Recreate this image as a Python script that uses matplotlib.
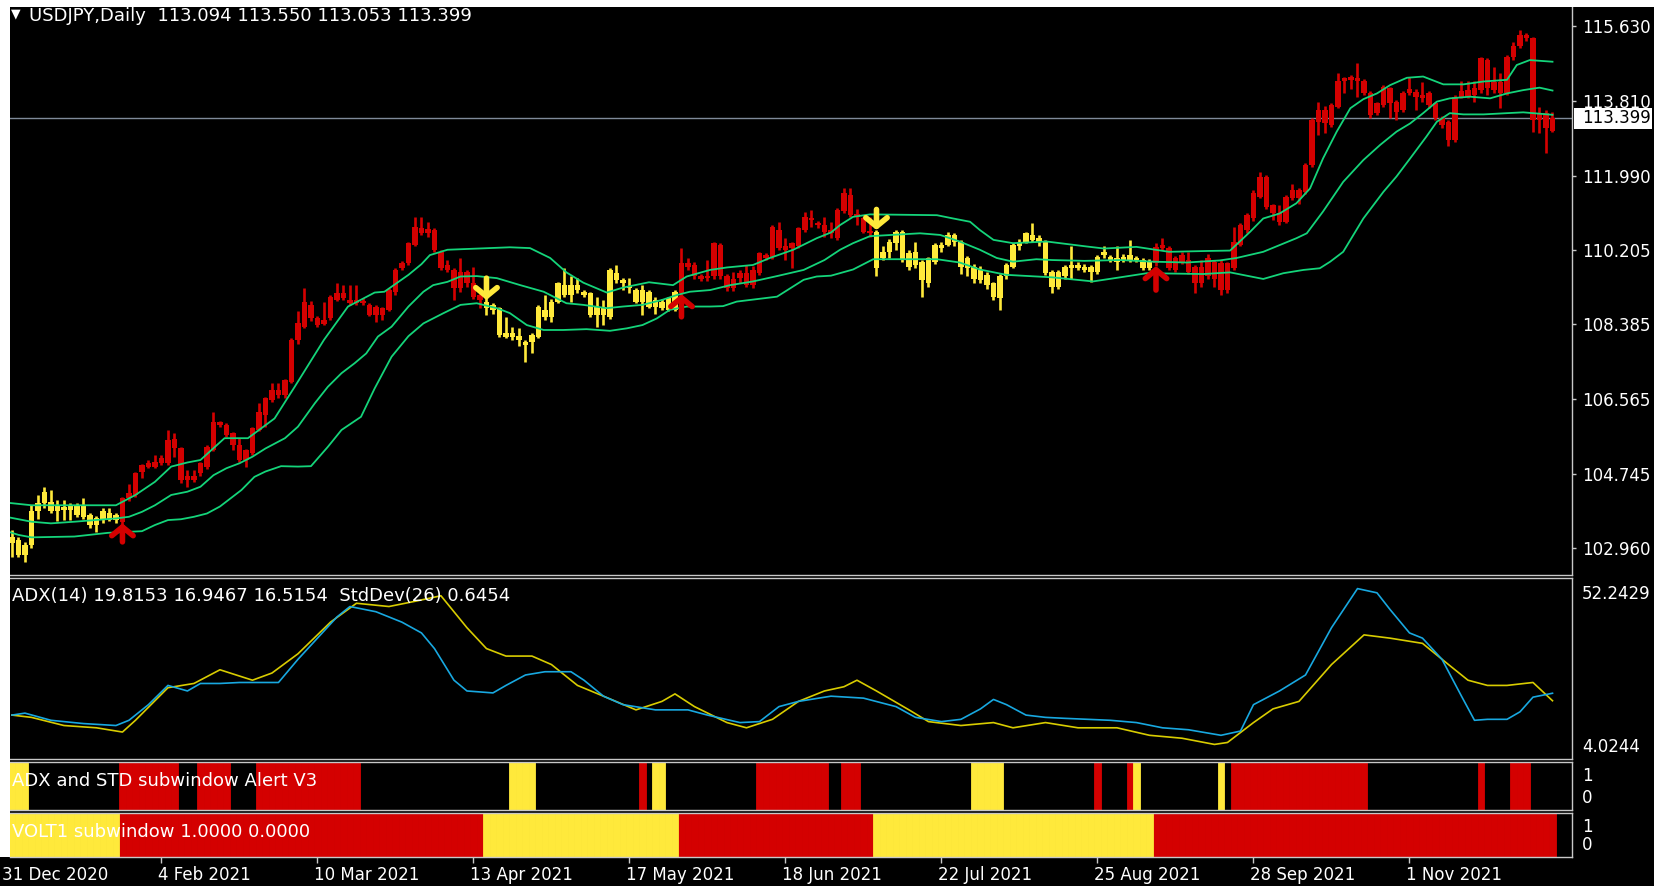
import matplotlib
matplotlib.use("Agg")
import matplotlib.pyplot as plt
import matplotlib.transforms as mtransforms
from matplotlib.patches import Rectangle

# ---------------- data ----------------
opens = [
    103.07, 103.15, 102.78, 103.02, 103.84, 104.04, 104.08, 103.84, 103.92, 103.88,
    103.96, 103.70, 103.75, 103.51, 103.62, 103.80, 103.63, 103.59, 104.16, 104.24,
    104.81, 104.93, 104.93, 105.01, 105.01, 105.59, 105.37, 104.60, 104.69, 104.77,
    104.93, 105.33, 106.02, 105.94, 105.74, 105.45, 105.09, 105.25, 105.82, 106.18,
    106.55, 106.79, 106.67, 106.99, 108.01, 108.33, 108.86, 108.53, 108.40, 108.53,
    108.98, 109.16, 108.98, 108.90, 108.94, 108.86, 108.82, 108.62, 108.74, 109.18,
    109.75, 109.87, 110.32, 110.72, 110.60, 110.68, 110.15, 109.83, 109.71, 109.26,
    109.67, 109.38, 109.10, 108.94, 108.86, 108.78, 108.17, 108.09, 108.11, 107.97,
    107.97, 108.09, 108.74, 108.57, 108.94, 109.34, 109.10, 109.34, 109.18, 109.14,
    108.61, 108.82, 108.57, 109.63, 109.47, 109.30, 109.22, 108.94, 109.18, 108.82,
    108.94, 108.74, 108.74, 109.14, 109.87, 109.83, 109.55, 109.55, 109.55, 110.32,
    109.55, 109.26, 109.51, 109.63, 109.34, 109.63, 110.07, 110.03, 110.68, 110.28,
    110.24, 110.28, 110.68, 110.96, 110.84, 110.80, 110.68, 110.48, 111.13, 111.53,
    111.04, 110.96, 110.64, 110.64, 109.99, 110.15, 110.36, 110.64, 110.11, 109.83,
    109.91, 109.38, 109.91, 110.32, 110.32, 110.56, 110.40, 109.99, 109.79, 109.71,
    109.59, 109.38, 109.02, 109.55, 109.79, 110.40, 110.40, 110.56, 110.48, 110.40,
    109.67, 109.30, 109.55, 109.83, 109.75, 109.79, 109.79, 109.67, 110.07, 110.03,
    109.99, 109.95, 110.07, 109.99, 109.95, 109.75, 109.87, 110.32, 110.24, 109.99,
    109.91, 109.95, 109.79, 109.38, 109.99, 109.50, 109.87, 109.22, 109.75, 110.32,
    110.68, 110.96, 111.49, 111.98, 111.29, 111.09, 110.88, 111.45, 111.65, 111.61,
    112.26, 113.31, 113.60, 113.23, 113.68, 114.29, 114.41, 114.37, 114.29, 114.00,
    113.76, 113.72, 114.12, 113.80, 113.60, 114.10, 114.04, 113.96, 114.00, 113.76,
    113.40, 113.31, 112.87, 114.06, 113.92, 114.12, 114.08, 114.81, 114.28, 114.00,
    114.00, 114.89, 115.14, 115.42, 115.34, 113.35, 113.52, 113.094]

highs = [
    103.39, 103.22, 103.10, 104.00, 104.24, 104.44, 104.36, 104.12, 104.12, 104.04,
    104.05, 104.16, 103.80, 103.72, 103.92, 103.92, 103.80, 104.20, 104.50, 104.80,
    105.00, 105.09, 105.21, 105.20, 105.82, 105.75, 105.40, 104.85, 104.85, 105.05,
    105.45, 106.26, 106.05, 105.98, 105.78, 105.62, 105.36, 105.90, 106.47, 106.62,
    106.95, 106.95, 107.06, 108.05, 108.70, 109.26, 108.95, 108.58, 108.94, 109.10,
    109.38, 109.34, 109.34, 109.34, 109.02, 108.90, 108.86, 108.82, 109.26, 109.75,
    109.92, 110.40, 111.00, 111.00, 110.88, 110.72, 110.20, 109.95, 109.75, 110.00,
    109.72, 109.79, 109.14, 109.06, 108.90, 108.82, 108.57, 108.33, 108.29, 108.00,
    108.18, 108.86, 109.10, 109.00, 109.42, 109.75, 109.55, 109.51, 109.22, 109.18,
    109.06, 108.98, 109.75, 109.83, 109.51, 109.51, 109.26, 109.34, 109.22, 109.04,
    109.00, 109.06, 109.22, 110.24, 110.00, 109.90, 109.60, 109.95, 110.40, 110.36,
    109.60, 109.67, 109.70, 109.83, 109.80, 110.15, 110.12, 110.80, 110.88, 110.48,
    110.40, 110.76, 111.12, 111.17, 110.90, 111.00, 110.88, 111.22, 111.69, 111.69,
    111.20, 111.00, 111.00, 110.68, 110.30, 110.45, 110.68, 110.68, 110.20, 110.40,
    109.95, 110.03, 110.36, 110.40, 110.64, 110.60, 110.44, 110.05, 109.85, 109.80,
    109.65, 109.42, 109.60, 109.87, 110.36, 110.45, 110.64, 110.84, 110.56, 110.44,
    109.72, 109.72, 109.84, 110.28, 109.90, 109.85, 109.84, 110.08, 110.28, 110.08,
    110.28, 110.10, 110.44, 110.05, 110.00, 109.98, 110.36, 110.48, 110.30, 110.05,
    110.15, 110.15, 109.83, 109.95, 110.10, 109.95, 109.95, 109.91, 110.76, 110.84,
    111.10, 111.65, 112.10, 112.02, 111.32, 111.29, 111.53, 111.81, 111.70, 112.30,
    113.40, 113.80, 113.70, 113.76, 114.49, 114.41, 114.45, 114.73, 114.35, 114.05,
    113.80, 114.20, 114.16, 113.85, 114.05, 114.40, 114.10, 114.28, 114.05, 113.80,
    113.45, 113.35, 113.96, 114.30, 114.30, 114.30, 114.89, 114.85, 114.65, 114.50,
    114.93, 115.25, 115.54, 115.46, 115.38, 113.68, 113.60, 113.550]

lows = [
    102.74, 102.74, 102.62, 102.95, 103.65, 103.92, 103.80, 103.60, 103.64, 103.64,
    103.70, 103.65, 103.43, 103.35, 103.55, 103.60, 103.55, 103.50, 104.10, 104.20,
    104.65, 104.90, 104.90, 104.98, 104.98, 105.17, 104.52, 104.44, 104.55, 104.70,
    104.88, 105.30, 105.90, 105.65, 105.33, 105.05, 104.93, 105.20, 105.80, 105.90,
    106.50, 106.60, 106.60, 106.95, 107.90, 108.30, 108.48, 108.33, 108.36, 108.50,
    108.95, 108.98, 108.86, 108.86, 108.85, 108.58, 108.45, 108.49, 108.70, 109.10,
    109.70, 109.82, 110.28, 110.55, 110.50, 110.15, 109.70, 109.67, 108.98, 109.18,
    109.30, 109.00, 108.78, 108.62, 108.65, 108.09, 108.05, 108.00, 107.85, 107.48,
    107.68, 108.05, 108.50, 108.45, 108.90, 109.05, 108.94, 109.15, 109.05, 108.56,
    108.33, 108.37, 108.52, 109.40, 109.22, 109.14, 108.90, 108.62, 108.78, 108.65,
    108.74, 108.70, 108.70, 109.10, 109.70, 109.50, 109.45, 109.45, 109.50, 109.50,
    109.20, 109.20, 109.40, 109.30, 109.28, 109.58, 109.95, 109.98, 110.20, 109.95,
    109.75, 110.24, 110.64, 110.76, 110.74, 110.52, 110.48, 110.44, 111.10, 111.00,
    110.80, 110.60, 110.50, 109.55, 109.95, 110.00, 110.20, 109.90, 109.70, 109.75,
    109.06, 109.30, 109.85, 110.15, 110.28, 110.30, 109.60, 109.55, 109.40, 109.40,
    109.25, 108.98, 108.74, 109.50, 109.75, 110.20, 110.36, 110.40, 110.30, 109.58,
    109.14, 109.25, 109.50, 109.50, 109.70, 109.65, 109.42, 109.62, 110.00, 109.90,
    109.70, 109.90, 109.90, 109.90, 109.70, 109.70, 109.80, 110.20, 109.70, 109.65,
    109.85, 109.60, 109.14, 109.30, 109.50, 109.30, 109.10, 109.15, 109.70, 110.28,
    110.60, 110.90, 111.45, 111.20, 110.92, 110.80, 110.84, 111.40, 111.30, 111.55,
    112.20, 113.00, 113.03, 113.18, 113.64, 114.00, 114.10, 113.92, 113.96, 113.40,
    113.48, 113.68, 113.40, 113.35, 113.55, 113.95, 113.60, 113.80, 113.65, 113.35,
    113.15, 112.71, 112.82, 113.88, 113.88, 113.80, 114.00, 113.95, 114.00, 113.64,
    113.95, 114.80, 115.10, 115.28, 113.07, 113.03, 112.54, 113.053]

closes = [
    103.23, 102.78, 103.02, 103.84, 104.04, 104.32, 103.84, 103.96, 103.88, 103.96,
    103.75, 104.00, 103.51, 103.67, 103.84, 103.63, 103.75, 104.16, 104.28, 104.77,
    104.97, 105.01, 105.05, 105.13, 105.58, 105.37, 104.60, 104.69, 104.61, 105.01,
    105.41, 106.02, 105.94, 105.70, 105.45, 105.09, 105.33, 105.86, 106.26, 106.59,
    106.79, 106.67, 107.03, 108.01, 108.41, 108.94, 108.53, 108.37, 108.50, 109.06,
    109.14, 109.02, 108.90, 108.98, 108.90, 108.62, 108.62, 108.78, 109.22, 109.71,
    109.87, 110.36, 110.76, 110.60, 110.70, 110.20, 109.75, 109.71, 109.26, 109.67,
    109.38, 109.06, 108.98, 108.78, 108.74, 108.13, 108.09, 108.17, 108.01, 107.89,
    108.13, 108.82, 108.57, 108.94, 109.38, 109.10, 109.34, 109.22, 109.10, 108.61,
    108.82, 108.61, 109.71, 109.47, 109.39, 109.26, 108.94, 109.22, 108.82, 108.98,
    108.78, 109.02, 109.18, 109.87, 109.79, 109.55, 109.50, 109.51, 110.36, 109.55,
    109.26, 109.50, 109.63, 109.34, 109.71, 110.11, 109.99, 110.76, 110.24, 110.20,
    110.36, 110.72, 111.00, 110.92, 110.80, 110.64, 110.60, 111.17, 111.57, 111.04,
    111.00, 110.64, 110.60, 109.75, 110.15, 110.40, 110.64, 109.95, 109.79, 110.15,
    109.46, 109.99, 110.32, 110.24, 110.56, 110.40, 109.79, 109.75, 109.50, 109.46,
    109.34, 109.06, 109.55, 109.83, 110.32, 110.28, 110.60, 110.44, 110.40, 109.63,
    109.30, 109.67, 109.79, 109.75, 109.83, 109.71, 109.67, 110.03, 110.15, 109.95,
    109.91, 110.03, 109.95, 109.95, 109.75, 109.91, 110.27, 110.24, 109.75, 109.71,
    110.07, 109.67, 109.38, 109.79, 109.55, 109.91, 109.22, 109.87, 110.40, 110.80,
    111.05, 111.57, 111.98, 111.25, 111.09, 110.88, 111.49, 111.65, 111.45, 112.26,
    113.35, 113.60, 113.27, 113.72, 114.29, 114.37, 114.33, 114.29, 114.00, 113.48,
    113.52, 114.16, 113.76, 113.56, 114.00, 114.00, 113.92, 113.88, 113.72, 113.40,
    113.23, 112.87, 113.92, 113.92, 114.08, 113.96, 114.85, 114.12, 114.08, 114.28,
    114.89, 115.14, 115.42, 115.34, 113.35, 113.52, 113.15, 113.399]

# regime runs (first bar, last bar) of the VOLT1 window, also used for candle colours
volt_yellow = [(0, 16), (73, 102), (133, 175)]
volt_red = [(17, 72), (103, 132), (176, 237)]

# alert window runs
alert_yellow = [(0, 2), (77, 80), (99, 100), (148, 152), (173, 173), (186, 186)]
alert_red = [(17, 25), (29, 33), (38, 53), (97, 97), (115, 125), (128, 130),
             (167, 167), (172, 172), (188, 208), (226, 226), (231, 233)]

# green bands, read at sample bars
band_up_x = [-0.6, 3, 16, 19, 22, 24.5, 27, 29, 32.7, 36.3, 40.4, 43.5, 48, 51.7, 55.8, 57.3,
             61, 63, 64.3, 67, 76.6, 79.7, 82.8, 85.3, 87.9, 91.5, 94, 98, 101.7, 103.8,
             107.4, 110, 114, 116.6, 120.2, 123.8, 126, 127.4, 129.4, 132, 142.3, 144.8,
             147.4, 148.9, 151, 154, 159.2, 165.3, 168, 173, 178, 183.8, 187.4, 190.5,
             192.5, 195, 197.6, 199.7, 201.7, 203.8, 205.9, 207.9, 210, 212, 214.6, 217.1,
             220.2, 223.3, 226.4, 230, 231.5, 233.5, 237]
band_up = [104.05, 103.99, 103.99, 104.24, 104.56, 104.93, 105.03, 105.09, 105.62, 105.62,
           106.10, 106.87, 108.01, 108.82, 109.16, 109.18, 109.59, 109.85, 110.07, 110.20,
           110.26, 110.24, 110.00, 109.65, 109.40, 109.16, 109.28, 109.41, 109.34, 109.55,
           109.71, 109.77, 109.83, 110.00, 110.20, 110.48, 110.62, 110.80, 111.00, 111.06,
           111.04, 110.96, 110.88, 110.68, 110.44, 110.36, 110.40, 110.28, 110.23, 110.27,
           110.15, 110.17, 110.18, 110.64, 110.96, 111.08, 111.33, 111.69, 112.42, 113.07,
           113.64, 113.86, 114.00, 114.20, 114.38, 114.41, 114.22, 114.22, 114.29, 114.33,
           114.69, 114.81, 114.77]

band_mid_x = [-0.6, 3, 6, 9.6, 16, 18, 20, 22, 24.5, 27, 29, 31, 33, 35, 37, 39, 42, 44,
              46.6, 48.6, 50.7, 52.7, 54.5, 56.3, 58.4, 61, 63.3, 64.8, 67, 69, 71.5, 74.6,
              78.2, 81.8, 85.3, 87.9, 91.5, 94, 97, 100, 102.3, 104.3, 107.4, 110.5, 114,
              117.7, 121.8, 125, 127.4, 129.4, 132, 139.7, 142.8, 145.8, 148.9, 151.5, 154,
              157.6, 160, 165, 170.5, 175.6, 180.7, 185.8, 188.4, 192.5, 197.6, 199.2, 201.7,
              204.8, 207.9, 210.5, 213, 215.1, 217.1, 219.2, 221.2, 224.3, 227.4, 230, 232.5,
              235, 237]
band_mid = [103.70, 103.59, 103.55, 103.59, 103.67, 103.71, 103.83, 103.99, 104.24, 104.32,
            104.44, 104.72, 104.89, 105.01, 105.17, 105.37, 105.62, 105.90, 106.47, 106.87,
            107.20, 107.44, 107.68, 108.09, 108.33, 108.82, 109.18, 109.34, 109.42, 109.55,
            109.56, 109.51, 109.34, 109.18, 108.90, 108.86, 108.78, 108.82, 108.86, 108.98,
            109.10, 109.18, 109.22, 109.34, 109.43, 109.56, 109.71, 109.95, 110.20, 110.36,
            110.53, 110.60, 110.56, 110.40, 110.20, 110.00, 109.91, 109.97, 109.95, 109.93,
            109.95, 109.91, 109.89, 109.94, 110.00, 110.15, 110.48, 110.60, 111.13, 111.85,
            112.38, 112.75, 113.07, 113.27, 113.52, 113.80, 113.88, 113.92, 113.88, 114.00,
            114.08, 114.14, 114.07]

band_low_x = [-0.6, 1, 3, 9.6, 14.8, 20, 22, 24, 26, 28, 30, 32, 35.3, 37.3, 39, 41.4, 44,
              46, 48.6, 50.7, 53.7, 55.8, 58.4, 61, 63.3, 66.4, 69, 71.5, 74.6, 76.6, 79.2,
              81.8, 84.8, 88.4, 92, 94.6, 97, 99.2, 101.2, 103.8, 107.4, 109.4, 111.5, 114.6,
              117.7, 121.8, 123.8, 126, 129.4, 132.5, 142.3, 145.8, 148.9, 153, 160, 166.3,
              170.5, 174.6, 183.3, 187.4, 192.5, 195.6, 198.7, 201.2, 202.8, 204.8, 207.9,
              211, 213, 215.1, 217.6, 219.2, 221.2, 223.3, 226.4, 230, 232.5, 237]
band_low = [103.35, 103.27, 103.21, 103.23, 103.32, 103.36, 103.51, 103.63, 103.65, 103.71,
            103.79, 103.96, 104.36, 104.68, 104.81, 104.94, 104.93, 104.94, 105.41, 105.82,
            106.14, 106.83, 107.60, 108.10, 108.41, 108.66, 108.86, 108.90, 108.78, 108.66,
            108.37, 108.25, 108.25, 108.27, 108.23, 108.29, 108.37, 108.53, 108.74, 108.82,
            108.82, 108.83, 108.94, 109.00, 109.06, 109.47, 109.55, 109.57, 109.72, 109.97,
            109.97, 109.89, 109.72, 109.59, 109.53, 109.43, 109.53, 109.63, 109.61, 109.65,
            109.49, 109.63, 109.71, 109.75, 109.91, 110.15, 110.96, 111.61, 111.98, 112.42,
            112.95, 113.31, 113.52, 113.49, 113.49, 113.52, 113.54, 113.48]

# ADX window lines
adx_blue_x = [0, 2, 6, 11, 16, 18, 21, 24, 27, 29, 32, 35, 41, 44, 47, 50, 52, 56, 60, 63,
              65, 68, 70, 74, 76, 79, 82, 86, 88, 91, 94, 99, 104, 107, 112, 115, 118, 121,
              126, 131, 136, 139, 143, 146, 149, 151, 153, 156, 159, 162, 169, 173, 177, 181,
              186, 189, 191, 195, 199, 203, 207, 210, 212, 215, 217, 220, 223, 225, 227, 230,
              232, 234, 237]
adx_blue = [13.1, 13.7, 11.5, 10.5, 9.9, 11.5, 16.3, 22.2, 20.5, 22.8, 22.8, 23.1, 23.1,
            30.2, 36.7, 43.2, 46.4, 44.8, 41.6, 38.3, 33.5, 23.8, 20.5, 19.9, 22.2, 25.4,
            26.4, 26.4, 23.8, 18.9, 16.3, 14.7, 14.7, 13.1, 10.8, 11.1, 15.7, 17.3, 18.9,
            18.3, 15.7, 12.4, 11.1, 11.8, 15.0, 17.9, 16.3, 13.1, 12.4, 12.1, 11.5, 10.8,
            9.2, 8.6, 6.9, 8.2, 16.3, 20.5, 25.4, 39.9, 51.9, 50.6, 45.5, 38.3, 36.7, 30.2,
            18.9, 11.5, 11.8, 11.8, 14.1, 18.6, 19.8]
adx_yel_x = [0, 3, 8, 13, 17, 19, 24, 28, 32, 37, 40, 44, 49, 53, 58, 62, 66, 70, 73, 76,
             80, 83, 87, 91, 96, 100, 102, 105, 110, 113, 117, 121, 125, 128, 130, 133, 138,
             141, 146, 151, 154, 159, 164, 170, 175, 180, 185, 187, 191, 194, 198, 203, 208,
             212, 217, 221, 224, 227, 230, 234, 237]
adx_yel = [13.1, 12.4, 9.9, 9.2, 7.9, 11.5, 21.5, 22.8, 27.0, 23.8, 26.0, 31.9, 41.6, 47.4,
           46.4, 48.0, 49.7, 39.9, 33.5, 31.2, 31.2, 28.6, 22.2, 18.9, 14.7, 17.3, 19.6, 15.7,
           10.8, 9.2, 11.8, 17.3, 20.5, 21.8, 23.8, 20.5, 14.7, 11.1, 9.9, 10.8, 9.2, 10.8,
           9.2, 9.2, 6.9, 6.0, 4.1, 4.7, 10.8, 15.0, 17.3, 28.6, 37.7, 36.7, 35.1, 28.6, 23.8,
           22.2, 22.2, 23.1, 17.5]

# signal arrows
arrow_up_x = [17, 103, 176]
arrow_up_tip = [103.55, 109.12, 109.80]
arrow_up_tail = [103.10, 108.57, 109.22]
arrow_dn_x = [73, 133]
arrow_dn_tail = [109.51, 111.18]
arrow_dn_tip = [108.98, 110.68]

price_ticks = [102.960, 104.745, 106.565, 108.385, 110.205, 111.990, 113.810, 115.630]
date_ticks = [-1, 23, 47, 71, 95, 119, 143, 167, 191, 215]
date_labels = ["31 Dec 2020", "4 Feb 2021", "10 Mar 2021", "13 Apr 2021", "17 May 2021",
               "18 Jun 2021", "22 Jul 2021", "25 Aug 2021", "28 Sep 2021", "1 Nov 2021"]
adx_max, adx_min = 52.2429, 4.0244

n = len(closes)
assert len(opens) == n and len(highs) == n and len(lows) == n

# ---------------- layout ----------------
W, H = 1654, 886
RED = '#D40000'
YEL = '#FFE93B'
GREEN = '#14D47A'
FRAME = '#C8C8C8'
plt.rcParams['font.family'] = ['DejaVu Sans']

fig = plt.figure(figsize=(W / 100, H / 100), dpi=100, facecolor='black')


def box(top, bottom, left=10, right=1572):
    return [left / W, 1 - bottom / H, (right - left) / W, (bottom - top) / H]


ax = fig.add_axes(box(7, 575))
ax_adx = fig.add_axes(box(578, 759), sharex=ax)
ax_al = fig.add_axes(box(762, 810), sharex=ax)
ax_vo = fig.add_axes(box(813, 857), sharex=ax)

for a in (ax, ax_adx, ax_al, ax_vo):
    a.set_facecolor('black')
    for s in a.spines.values():
        s.set_color(FRAME)
        s.set_linewidth(1)
    a.spines['left'].set_visible(False)
    a.tick_params(axis='x', bottom=False, labelbottom=False)
    a.tick_params(axis='y', left=False, labelleft=False)
ax.spines['top'].set_visible(False)

ax.set_xlim(-0.3, 240.0)

# white window frame strips
fig.patches.append(Rectangle((0, 1 - 7 / H), 1, 7 / H, transform=fig.transFigure,
                             fc='white', ec='none'))
fig.patches.append(Rectangle((0, 1 - 857 / H), 10 / W, 850 / H, transform=fig.transFigure,
                             fc='white', ec='none'))

# ---------------- main price window ----------------
bar_col = [YEL] * n
for a0, a1 in volt_red:
    for k in range(a0, a1 + 1):
        bar_col[k] = RED

xs = list(range(n))
ax.axhline(closes[-1], color='#7F8A99', lw=1, zorder=1)
ax.vlines(xs, lows, highs, colors=bar_col, lw=1.9, zorder=2)
body_lo = [min(o, c) for o, c in zip(opens, closes)]
body_h = [max(abs(c - o), 0.06) for o, c in zip(opens, closes)]
ax.bar(xs, body_h, bottom=body_lo, width=0.86, color=bar_col, lw=0, zorder=2)

for bx, by in ((band_up_x, band_up), (band_mid_x, band_mid), (band_low_x, band_low)):
    ax.plot(bx, by, color=GREEN, lw=1.3, zorder=3)

for x, tip, tail in zip(arrow_up_x, arrow_up_tip, arrow_up_tail):
    ax.annotate('', xy=(x, tip), xytext=(x, tail),
                arrowprops=dict(arrowstyle='->,head_width=0.55,head_length=0.45',
                                color=RED, lw=4, mutation_scale=14, shrinkA=0, shrinkB=0),
                zorder=4)
for x, tip, tail in zip(arrow_dn_x, arrow_dn_tip, arrow_dn_tail):
    ax.annotate('', xy=(x, tip), xytext=(x, tail),
                arrowprops=dict(arrowstyle='->,head_width=0.55,head_length=0.45',
                                color=YEL, lw=4, mutation_scale=14, shrinkA=0, shrinkB=0),
                zorder=4)

ax.set_ylim(102.295, 116.10)
ax.set_yticks(price_ticks)
ax.set_yticklabels(['%.3f' % t for t in price_ticks])
ax.tick_params(axis='y', right=True, labelright=True, direction='out', length=3,
               width=1, color=FRAME, labelcolor='white', labelsize=12, pad=4)

# current price box
bt = mtransforms.blended_transform_factory(ax.transAxes, ax.transData)
ax.add_patch(Rectangle((1.0012, closes[-1] - 0.255), 0.05, 0.51, transform=bt,
                       fc='white', ec='none', clip_on=False, zorder=5))
ax.annotate('%.3f' % closes[-1], xy=(1, closes[-1]), xycoords=bt, xytext=(7, 0),
            textcoords='offset points', va='center', ha='left', fontsize=12,
            color='black', zorder=6, annotation_clip=False)

fig.text(11 / W, 1 - 14 / H, '\u25bc', color='white', fontsize=9, va='center', ha='left')
fig.text(29 / W, 1 - 16 / H, 'USDJPY,Daily  %.3f %.3f %.3f %.3f'
         % (opens[-1], highs[-1], lows[-1], closes[-1]),
         color='white', fontsize=13, va='center', ha='left')

# ---------------- ADX window ----------------
ax_adx.plot(adx_yel_x, adx_yel, color='#D8CC00', lw=1.2)
ax_adx.plot(adx_blue_x, adx_blue, color='#18A8E0', lw=1.2)
ax_adx.set_ylim(-0.37, 55.15)
fig.text(12 / W, 1 - 596 / H, 'ADX(14) 19.8153 16.9467 16.5154  StdDev(26) 0.6454',
         color='white', fontsize=13, va='center', ha='left')
fig.text(1582 / W, 1 - 594 / H, '%.4f' % adx_max, color='white', fontsize=12, va='center')
fig.text(1582 / W, 1 - 747 / H, '%.4f' % adx_min, color='white', fontsize=12, va='center')

# ---------------- alert window ----------------
for runs, col in ((alert_red, RED), (alert_yellow, YEL)):
    for a0, a1 in runs:
        idx = list(range(a0, a1 + 1))
        ax_al.bar(idx, [1] * len(idx), width=1.0, color=col, lw=0.6, ec=col)
ax_al.set_ylim(0, 1)
fig.text(12 / W, 1 - 781 / H, 'ADX and STD subwindow Alert V3', color='white',
         fontsize=13, va='center', ha='left')
fig.text(1582 / W, 1 - 776 / H, '1', color='white', fontsize=12, va='center')
fig.text(1582 / W, 1 - 798 / H, '0', color='white', fontsize=12, va='center')

# ---------------- VOLT1 window ----------------
for runs, col in ((volt_red, RED), (volt_yellow, YEL)):
    for a0, a1 in runs:
        idx = list(range(a0, a1 + 1))
        ax_vo.bar(idx, [1] * len(idx), width=1.0, color=col, lw=0.6, ec=col)
ax_vo.set_ylim(0, 1)
fig.text(12 / W, 1 - 832 / H, 'VOLT1 subwindow 1.0000 0.0000', color='white',
         fontsize=13, va='center', ha='left')
fig.text(1582 / W, 1 - 827 / H, '1', color='white', fontsize=12, va='center')
fig.text(1582 / W, 1 - 845 / H, '0', color='white', fontsize=12, va='center')

ax_vo.set_xticks(date_ticks)
ax_vo.tick_params(axis='x', bottom=True, direction='out', length=4, width=1, color=FRAME)
xt = mtransforms.blended_transform_factory(ax_vo.transData, ax_vo.transAxes)
for t, lab in zip(date_ticks, date_labels):
    ax_vo.text(t - 0.6, -0.42, lab, transform=xt, color='white', fontsize=12,
               va='center', ha='left', clip_on=False)
ax_vo.set_xlim(-0.3, 240.0)

fig.savefig('out.png', dpi=100, facecolor='black')
